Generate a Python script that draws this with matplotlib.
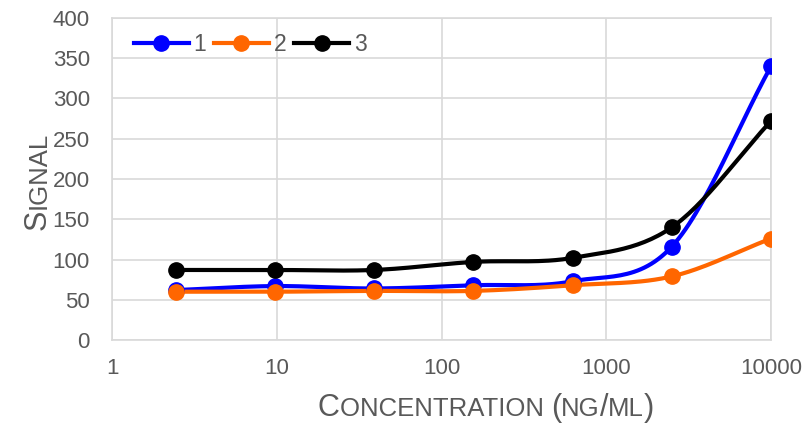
import numpy as np
import matplotlib
matplotlib.use("Agg")
import matplotlib.pyplot as plt

conc = [2.44, 9.77, 39.06, 156.25, 625, 2500, 10000]
s1 = [62, 67, 64, 68, 73, 116, 340]
s2 = [60, 60, 61, 61, 68, 79, 126]
s3 = [87, 87, 87, 97, 102, 140, 272]
series_names = ["1", "2", "3"]
colors = ["#0000ff", "#ff6600", "#000000"]
xticks = [1, 10, 100, 1000, 10000]
xticklabels = ["1", "10", "100", "1000", "10000"]
yticks = list(range(0, 401, 50))

plt.rcParams["font.family"] = ["Liberation Sans", "DejaVu Sans"]
gray = "#595959"


def catmull(x, y, n=30):
    x = np.asarray(x, float); y = np.asarray(y, float)
    px = np.concatenate([[2 * x[0] - x[1]], x, [2 * x[-1] - x[-2]]])
    py = np.concatenate([[2 * y[0] - y[1]], y, [2 * y[-1] - y[-2]]])
    xs, ys = [], []
    t = np.linspace(0, 1, n)
    for i in range(1, len(px) - 2):
        p0, p1, p2, p3 = [np.array([px[j], py[j]]) for j in range(i - 1, i + 3)]
        tt = t[:, None]
        pts = 0.5 * ((2 * p1) + (-p0 + p2) * tt + (2 * p0 - 5 * p1 + 4 * p2 - p3) * tt ** 2
                     + (-p0 + 3 * p1 - 3 * p2 + p3) * tt ** 3)
        xs.append(pts[:, 0]); ys.append(pts[:, 1])
    return np.concatenate(xs), np.concatenate(ys)


fig = plt.figure(figsize=(8.09, 4.24), dpi=100)
ax = fig.add_axes([112 / 809, 1 - 340 / 424, (771 - 112) / 809, (340 - 18) / 424])
ax.set_xscale("log")
ax.set_xlim(1, 10000)
ax.set_ylim(0, 400)

lx = np.log10(conc)
for ys, c, nm in zip([s1, s2, s3], colors, series_names):
    sx, sy = catmull(lx, ys)
    ax.plot(10 ** sx, sy, color=c, lw=3, solid_capstyle="round", zorder=3)
    ax.plot(conc, ys, "o", color=c, ms=11, zorder=4)
    ax.plot([], [], "-o", color=c, lw=3, ms=11, label=nm)

ax.set_xticks(xticks)
ax.set_xticklabels(xticklabels)
ax.xaxis.set_minor_locator(matplotlib.ticker.NullLocator())
ax.set_yticks(yticks)
ax.grid(True, color="#d9d9d9", lw=1.2)
ax.set_axisbelow(True)
for sp in ax.spines.values():
    sp.set_color("#d9d9d9"); sp.set_linewidth(1.2)
ax.tick_params(length=0, labelsize=16, colors=gray)
ax.tick_params(axis="y", pad=16)
ax.tick_params(axis="x", pad=13)

leg = ax.legend(loc="upper left", ncol=3, frameon=False, fontsize=16.5, handlelength=2.4,
                columnspacing=0.35, handletextpad=0.2, bbox_to_anchor=(0.005, 1.01),
                labelcolor=gray, borderaxespad=0.4)

fig.canvas.draw()
r = fig.canvas.get_renderer()


def smallcaps(parts, x, y, rotation=0):
    texts = []
    for t, s in parts:
        texts.append(fig.text(0, 0, t, fontsize=s, color=gray, rotation=rotation,
                              va="baseline", ha="left", rotation_mode="anchor"))
    fig.canvas.draw()
    widths = []
    for t in texts:
        bb = t.get_window_extent(r)
        widths.append(bb.height if rotation == 90 else bb.width)
    total = sum(widths)
    pos = -total / 2
    for t, w in zip(texts, widths):
        if rotation == 90:
            t.set_position((x, (y * fig.bbox.height + pos) / fig.bbox.height))
        else:
            t.set_position(((x * fig.bbox.width + pos) / fig.bbox.width, y))
        pos += w


big, small = 22, 18.5
smallcaps([("C", big), ("ONCENTRATION ", small), ("(", big), ("NG", small), ("/", big),
           ("ML", small), (")", big)], 486 / 809, 1 - 416 / 424)
smallcaps([("S", big), ("IGNAL", small)], 46 / 809, 1 - 181 / 424, rotation=90)

fig.savefig("out.png", dpi=100)
